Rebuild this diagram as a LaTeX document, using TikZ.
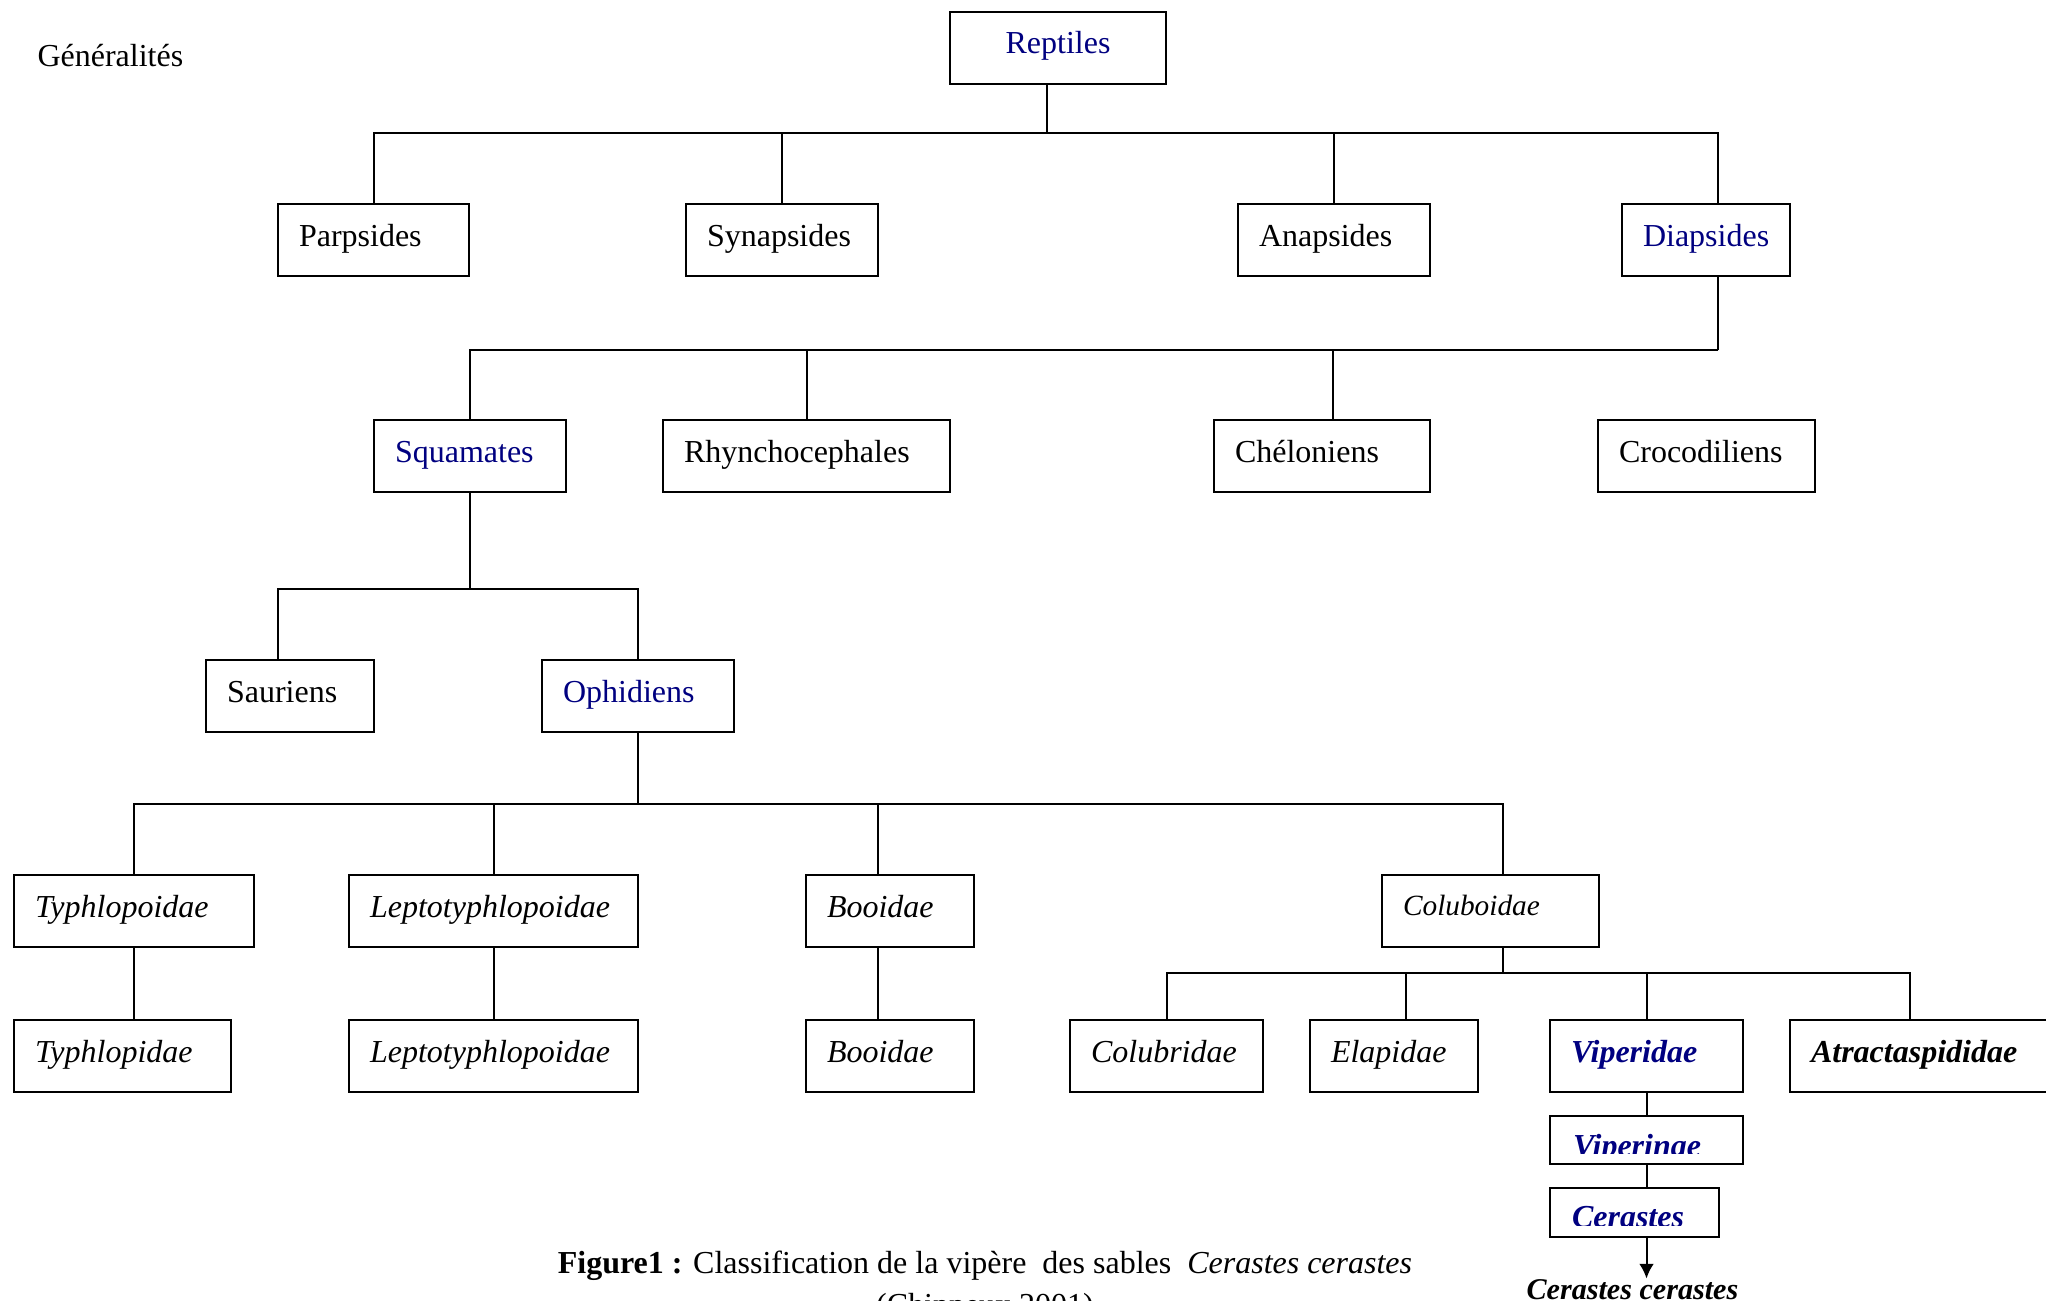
\documentclass[tikz,border=0pt]{standalone}
\usepackage{fontspec}
\setmainfont{Liberation Serif}
\usepackage{xcolor}
\usepackage{tikz}
\usetikzlibrary{arrows.meta, positioning}

\definecolor{taxblue}{RGB}{0,0,128}
\newcommand{\pxu}{0.375pt}
\newcommand{\taxsize}{\fontsize{12}{14.4}\selectfont}

\begin{document}
\begin{tikzpicture}[x=0.375pt, y=-0.375pt, font=\taxsize, >={Latex[length=5.5pt,width=5.5pt]},
    link/.style={line width=0.75pt},
    taxon/.style={draw, rectangle, line width=0.75pt, anchor=north west, inner xsep=21*\pxu, inner ysep=0pt,
      minimum height=72*\pxu, text height=0.7em, text depth=0.25em, align=left, text width=#1*\pxu-42*\pxu},
    clade/.style={text=taxblue},
    latin/.style={font=\taxsize\itshape},
    key/.style={font=\taxsize\bfseries\itshape}]

\useasboundingbox (0,0) rectangle (2046,1301);
\clip (0,0) rectangle (2046,1301);

\node[anchor=base west, inner sep=0pt] (title) at (37,67) {Généralités};

% classes
\node[taxon=216, clade, align=center] (reptiles) at (949,11) {Reptiles};
\node[taxon=191] (parpsides) at (277,203) {Parpsides};
\node[taxon=192] (synapsides) at (685,203) {Synapsides};
\node[taxon=192] (anapsides) at (1237,203) {Anapsides};
\node[taxon=168, clade] (diapsides) at (1621,203) {Diapsides};

% orders
\node[taxon=192, clade] (squamates) at (373,419) {Squamates};
\node[taxon=287] (rhyncho) at (662,419) {Rhynchocephales};
\node[taxon=216] (cheloniens) at (1213,419) {Chéloniens};
\node[taxon=217] (crocodiliens) at (1597,419) {Crocodiliens};

\node[taxon=168] (sauriens) at (205,659) {Sauriens};
\node[taxon=192, clade] (ophidiens) at (541,659) {Ophidiens};

% super-families
\node[taxon=240, latin] (typhlopoidae) at (13,874) {Typhlopoidae};
\node[taxon=289, latin] (leptoA) at (348,874) {Leptotyphlopoidae};
\node[taxon=168, latin] (booidaeA) at (805,874) {Booidae};
\node[taxon=217, font=\fontsize{11}{13}\selectfont\itshape, text depth=0.35em] (coluboidae) at (1381,874) {Coluboidae};

% families
\node[taxon=217, latin] (typhlopidae) at (13,1019) {Typhlopidae};
\node[taxon=289, latin] (leptoB) at (348,1019) {Leptotyphlopoidae};
\node[taxon=168, latin] (booidaeB) at (805,1019) {Booidae};
\node[taxon=193, latin] (colubridae) at (1069,1019) {Colubridae};
\node[taxon=168, latin] (elapidae) at (1309,1019) {Elapidae};
\node[taxon=193, key, clade] (viperidae) at (1549,1019) {Viperidae};
\node[taxon=270, key] (atracta) at (1789,1019) {Atractaspididae};

\node[taxon=193, minimum height=48*\pxu, below=8.25pt of viperidae.south west, anchor=north west,
  path picture={
    \clip (path picture bounding box.north west) rectangle ([yshift=11*\pxu]path picture bounding box.south east);
    \node[anchor=base west, inner sep=0pt, key, text=taxblue] at ([xshift=22*\pxu, yshift=-40*\pxu]path picture bounding box.north west) {Viperinae};
  }] (viperinae) {};
\node[taxon=169, minimum height=49*\pxu, below=8.25pt of viperinae.south west, anchor=north west,
  path picture={
    \clip (path picture bounding box.north west) rectangle ([yshift=12*\pxu]path picture bounding box.south east);
    \node[anchor=base west, inner sep=0pt, key, text=taxblue] at ([xshift=21*\pxu, yshift=-39*\pxu]path picture bounding box.north west) {Cerastes};
  }] (cerastes) {};

\node[anchor=base west, inner sep=0pt, font=\fontsize{11.3}{13}\selectfont\bfseries\itshape] (species) at (1526,1299) {Cerastes cerastes};

% connectors
\draw[link] ([xshift=-11*\pxu]reptiles.south) -- ++(0,48) coordinate (b1);
\foreach \n in {parpsides, synapsides, anapsides}
  \draw[link] (b1) -| (\n.north);
\draw[link] (b1) -| ([xshift=12*\pxu]diapsides.north);

\draw[link] ([xshift=12*\pxu]diapsides.south) -- ++(0,73) coordinate (b2);
\draw[link] (b2) -| (squamates.north);
\draw[link] (b2) -| (rhyncho.north);
\draw[link] (b2) -| ([xshift=11*\pxu]cheloniens.north);

\draw[link] (squamates.south) -- ++(0,96) coordinate (b3);
\draw[link] (b3) -| ([xshift=-12*\pxu]sauriens.north);
\draw[link] (b3) -| (ophidiens.north);

\draw[link] (ophidiens.south) -- ++(0,71) coordinate (b4);
\draw[link] (b4) -| (typhlopoidae.north);
\draw[link] (b4) -| (leptoA.north);
\draw[link] (b4) -| ([xshift=-12*\pxu]booidaeA.north);
\draw[link] (b4) -| ([xshift=12*\pxu]coluboidae.north);

\draw[link] (typhlopoidae.south) -- (typhlopoidae.south |- typhlopidae.north);
\draw[link] (leptoA.south) -- (leptoB.north);
\draw[link] ([xshift=-12*\pxu]booidaeA.south) -- ([xshift=-12*\pxu]booidaeB.north);

\draw[link] ([xshift=12*\pxu]coluboidae.south) -- ++(0,25) coordinate (b5);
\draw[link] (b5) -| (colubridae.north);
\draw[link] (b5) -| ([xshift=12*\pxu]elapidae.north);
\draw[link] (b5) -| (viperidae.north);
\draw[link] (b5) -| ([xshift=-15*\pxu]atracta.north);

\draw[link] (viperidae.south) -- (viperinae.north);
\draw[link] (viperinae.south) -- (viperinae.south |- cerastes.north);
\draw[link, ->] (viperidae.south |- cerastes.south) -- (viperidae.south |- species.north);

% caption
\node[anchor=base] (caption) at (985,1273) {\textbf{Figure1 :} Classification de la vipère\ \ des sables\ \ \textit{Cerastes cerastes}};
\node[anchor=base] (source) at ([yshift=-16.1pt]caption.base) {(Chippeux 2001)};
\end{tikzpicture}
\end{document}
